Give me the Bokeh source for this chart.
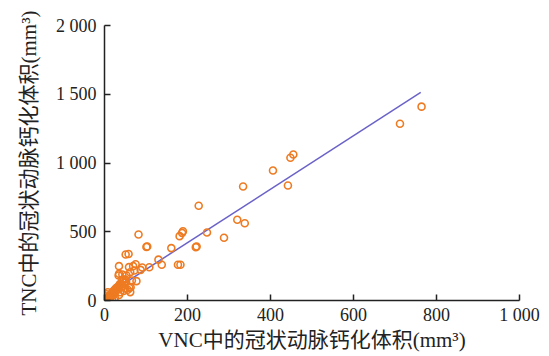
from bokeh.plotting import figure
from bokeh.models import Range1d, FixedTicker, ColumnDataSource
from bokeh.embed import file_html
from bokeh.resources import INLINE

# VNC (x) vs TNC (y) coronary calcification volume, mm^3
vnc = [0, 1, 2, 3, 4, 5, 6, 7, 8, 9, 10, 11, 12, 13, 14, 15, 16, 17, 18, 19,
       20, 21, 22, 24, 25, 26, 28, 30, 32, 34, 36, 38, 40, 42, 44, 46, 48, 50,
       3, 5, 8, 2, 12, 18, 25, 35,
       35, 59, 69, 72, 62, 43, 35, 43, 51, 66, 60, 62, 52, 37, 56, 47, 53, 34, 63, 77,
       87, 108, 91, 75, 138, 177, 130, 51, 58, 101, 82,
       103, 161, 222, 181, 189, 187, 220, 183, 247, 288, 320, 338, 227,
       334, 442, 406, 448, 455, 712, 764]
tnc = [0, 3, 5, 2, 10, 8, 15, 4, 20, 12, 25, 18, 30, 22, 40, 28, 35, 50, 45, 60,
       38, 55, 70, 48, 80, 65, 90, 75, 100, 85, 110, 60, 95, 120, 105, 70, 130, 90,
       30, 45, 60, 15, 5, 10, 20, 40,
       250, 243, 250, 218, 206, 189, 194, 150, 153, 145, 92, 61, 140, 119, 78, 153, 182, 182, 97, 141,
       223, 242, 240, 264, 260, 260, 297, 335, 338, 390, 480,
       393, 381, 393, 468, 504, 492, 388, 260, 495, 456, 587, 562, 689,
       829, 836, 945, 1038, 1062, 1285, 1410]

# Regression line: TNC = slope * VNC + intercept, drawn over the VNC extent
fit_slope = 1.944
fit_intercept = 32.0
fit_x = [0, 762]
fit_y = [fit_slope * v + fit_intercept for v in fit_x]

x_ticks = [0, 200, 400, 600, 800, 1000]
x_labels = ["0", "200", "400", "600", "800", "1 000"]
y_ticks = [0, 500, 1000, 1500, 2000]
y_labels = ["0", "500", "1 000", "1 500", "2 000"]

serif = "Liberation Serif, 'Noto Sans CJK SC'"

p = figure(width=549, height=356, output_backend="svg", toolbar_location=None,
           x_range=Range1d(0, 1000), y_range=Range1d(0, 2000),
           min_border_left=104, min_border_right=30, min_border_top=25,
           min_border_bottom=56)
p.outline_line_color = None
p.grid.visible = False
p.background_fill_color = "white"
p.border_fill_color = "white"

p.line(fit_x, fit_y, line_color="#6A62C8", line_width=1.5)
src = ColumnDataSource(dict(x=vnc, y=tnc))
p.scatter("x", "y", source=src, marker="circle", size=7, fill_color=None,
          line_color="#EE7B22", line_width=1.6)

for ax, ticks, labels in ((p.xaxis[0], x_ticks, x_labels), (p.yaxis[0], y_ticks, y_labels)):
    ax.ticker = FixedTicker(ticks=ticks)
    ax.major_label_overrides = {t: l for t, l in zip(ticks, labels)}
    ax.minor_tick_line_color = None
    ax.major_tick_in = 6
    ax.major_tick_out = 0
    ax.axis_line_width = 1.5
    ax.axis_line_color = "#222222"
    ax.major_tick_line_width = 1.5
    ax.major_tick_line_color = "#222222"
    ax.major_label_text_font = "Liberation Serif"
    ax.major_label_text_font_size = "18px"
    ax.major_label_text_color = "#222222"
    ax.axis_label_text_font = serif
    ax.axis_label_text_font_size = "21px"
    ax.axis_label_text_font_style = "normal"
    ax.axis_label_text_color = "#222222"

p.xaxis.axis_label = "VNC中的冠状动脉钙化体积(mm³)"
p.yaxis.axis_label = "TNC中的冠状动脉钙化体积(mm³)"
p.xaxis.major_label_standoff = 4
p.yaxis.major_label_standoff = 8
p.xaxis.axis_label_standoff = 0
p.yaxis.axis_label_standoff = 12

open("out.html", "w").write(file_html(p, INLINE))
